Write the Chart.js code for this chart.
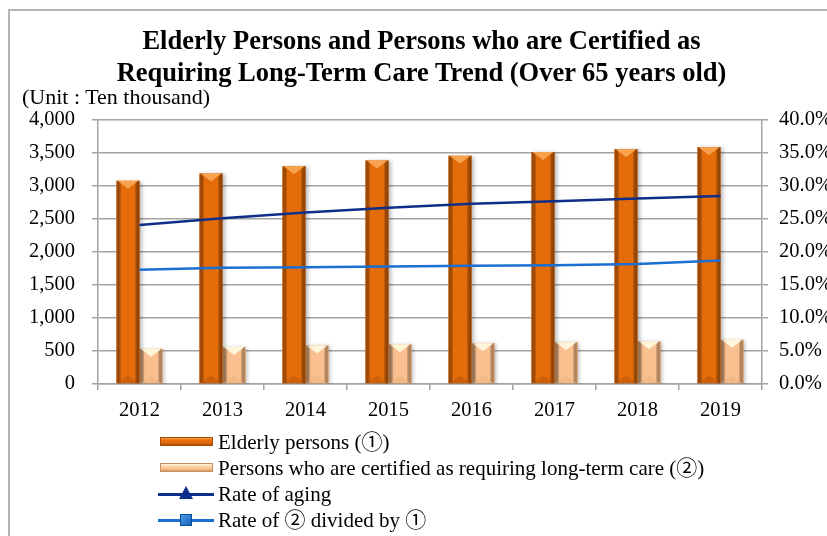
<!DOCTYPE html>
<html><head><meta charset="utf-8">
<script src="https://cdn.jsdelivr.net/npm/chart.js@4"></script>
<style>
html,body{margin:0;padding:0;background:#fff;}
#wrap{position:relative;width:827px;height:536px;overflow:hidden;font-family:"Liberation Serif","Noto Sans CJK JP",serif;color:#000;}
#frame{position:absolute;left:8px;top:9px;width:840px;height:560px;border-left:2px solid #b4b4b4;border-top:2px solid #b4b4b4;}
#c{position:absolute;left:0;top:0;}
.title{position:absolute;left:0;width:843px;text-align:center;font-weight:bold;font-size:26.5px;line-height:30px;white-space:nowrap;}
.unit{position:absolute;left:22px;top:85px;font-size:22px;line-height:24px;white-space:nowrap;}
.lg{position:absolute;left:158px;height:24px;width:660px;font-size:21px;line-height:24px;white-space:nowrap;}
.lg .sw{position:absolute;left:0;top:0;width:56px;height:24px;}
.lg .tx{position:absolute;left:60px;top:0;}
.bar{position:absolute;left:2px;top:7px;width:53px;height:9px;box-sizing:border-box;}
.b1{background:linear-gradient(#f7a04a 0%,#e46c0a 30%,#e46c0a 65%,#a84d08 100%);border:1px solid #a84d08;}
.b2{background:linear-gradient(#fff6dc 0%,#fcd3a8 35%,#fac090 70%,#d39a68 100%);border:1px solid #c89060;}
.ln{position:absolute;left:0;top:10.5px;width:56px;height:3px;}
.tri{position:absolute;left:21px;top:4px;width:0;height:0;border-left:7px solid transparent;border-right:7px solid transparent;border-bottom:13px solid #0d2f8a;}
.sq{position:absolute;left:22px;top:6px;width:12px;height:12px;box-sizing:border-box;background:linear-gradient(135deg,#4a9be8,#1560b8);border:1px solid #0c4a94;}
</style></head>
<body>
<div id="wrap">
  <div id="frame"></div>
  <canvas id="c" width="827" height="536"></canvas>
  <div class="title" style="top:25px;">Elderly Persons and Persons who are Certified as</div>
  <div class="title" style="top:57px;">Requiring Long-Term Care Trend (Over 65 years old)</div>
  <div class="unit">(Unit : Ten thousand)</div>
  <div class="lg" style="top:430px;"><div class="sw"><div class="bar b1"></div></div><div class="tx">Elderly persons (①)</div></div>
  <div class="lg" style="top:456px;"><div class="sw"><div class="bar b2"></div></div><div class="tx">Persons who are certified as requiring long-term care (②)</div></div>
  <div class="lg" style="top:482px;"><div class="sw"><div class="ln" style="background:#0d2f8a"></div><div class="tri"></div></div><div class="tx">Rate of aging</div></div>
  <div class="lg" style="top:508px;"><div class="sw"><div class="ln" style="background:#1a6fd0"></div><div class="sq"></div></div><div class="tx">Rate of ② divided by ①</div></div>
</div>
<script>
const years = ['2012','2013','2014','2015','2016','2017','2018','2019'];
const elderly = [3079, 3190, 3300, 3387, 3459, 3515, 3558, 3589];
const certified = [533, 561, 584, 603, 619, 633, 648, 671];
const agingRate = [24.1, 25.1, 26.0, 26.7, 27.3, 27.7, 28.1, 28.5];
const certRate = [17.3, 17.6, 17.7, 17.8, 17.9, 18.0, 18.2, 18.7];

const FONT = '"Liberation Serif", "Noto Sans CJK JP", serif';
const GRID = '#a3a3a3';
const TICK_SIZE = 20.5;

const bevels = {
  0: {edgeL:'#b0520a', edgeR:'#9c4706', top:'#f9a24e', bottom:'#c05808'},
  1: {edgeL:'#e0a874', edgeR:'#cf9460', top:'#fff5da', bottom:'#efb47e'}
};

const bevelPlugin = {
  id: 'bevel',
  beforeDatasetDraw(chart, args) {
    if (args.meta.type !== 'bar') return;
    const ctx = chart.ctx;
    ctx.save();
    ctx.shadowColor = 'rgba(0,0,0,0.28)';
    ctx.shadowBlur = 4;
    ctx.shadowOffsetX = 2;
    ctx.shadowOffsetY = 1;
  },
  afterDatasetDraw(chart, args) {
    if (args.meta.type !== 'bar') return;
    const ctx = chart.ctx;
    ctx.restore();
    const b = bevels[args.index];
    args.meta.data.forEach(el => {
      const p = el.getProps(['x','y','base','width'], true);
      const l = p.x - p.width/2, r = p.x + p.width/2, t = p.y, bt = p.base;
      const e = 3;
      ctx.save();
      let g = ctx.createLinearGradient(l, 0, l + e + 2, 0);
      g.addColorStop(0, b.edgeL); g.addColorStop(1, 'rgba(0,0,0,0)');
      ctx.fillStyle = g; ctx.fillRect(l, t, e + 2, bt - t);
      g = ctx.createLinearGradient(r - e - 2, 0, r, 0);
      g.addColorStop(0, 'rgba(0,0,0,0)'); g.addColorStop(1, b.edgeR);
      ctx.fillStyle = g; ctx.fillRect(r - e - 2, t, e + 2, bt - t);
      ctx.fillStyle = b.top;
      ctx.beginPath(); ctx.moveTo(l + 1, t); ctx.lineTo(r - 1, t); ctx.lineTo(p.x, t + 8); ctx.closePath(); ctx.fill();
      ctx.fillStyle = b.bottom; ctx.globalAlpha = 0.6;
      ctx.beginPath(); ctx.moveTo(l + 1, bt); ctx.lineTo(r - 1, bt); ctx.lineTo(p.x, bt - 8); ctx.closePath(); ctx.fill();
      ctx.restore();
    });
  }
};

new Chart(document.getElementById('c'), {
  type: 'bar',
  data: {
    labels: years,
    datasets: [
      {type:'bar', label:'Elderly persons (①)', data: elderly, backgroundColor:'#e46c0a', yAxisID:'y', order:2, categoryPercentage:0.554, barPercentage:1.0},
      {type:'bar', label:'Persons who are certified as requiring long-term care (②)', data: certified, backgroundColor:'#fac090', yAxisID:'y', order:2, categoryPercentage:0.554, barPercentage:1.0},
      {type:'line', label:'Rate of aging', data: agingRate, borderColor:'#0d2f8a', borderWidth:2.5, pointRadius:0, tension:0, yAxisID:'y2', order:0},
      {type:'line', label:'Rate of ② divided by ①', data: certRate, borderColor:'#1a6fd0', borderWidth:2.5, pointRadius:0, tension:0, yAxisID:'y2', order:0}
    ]
  },
  options: {
    responsive:false, animation:false, devicePixelRatio:1,
    layout:{padding:{top:120, bottom:112, left:0, right:0}},
    plugins:{legend:{display:false}, title:{display:false}, tooltip:{enabled:false}},
    scales:{
      x:{
        grid:{offset:true, drawOnChartArea:false, drawTicks:true, tickLength:6, color:GRID, lineWidth:1.5},
        border:{color:GRID, width:1.5},
        ticks:{font:{family:FONT, size:TICK_SIZE}, color:'#000', padding:8, maxRotation:0},
        afterFit(s){ s.height = 40; }
      },
      y:{
        position:'left', min:0, max:4000,
        ticks:{stepSize:500, font:{family:FONT, size:TICK_SIZE}, color:'#000', padding:17,
          callback:v => v.toLocaleString('en-US')},
        grid:{color:GRID, lineWidth:1.5, tickLength:6},
        border:{color:GRID, width:1.5},
        afterFit(s){ s.width = 98; }
      },
      y2:{
        position:'right', min:0, max:40,
        ticks:{stepSize:5, font:{family:FONT, size:TICK_SIZE}, color:'#000', padding:11,
          callback:v => v.toFixed(1) + '%'},
        grid:{drawOnChartArea:false, color:GRID, lineWidth:1.5, tickLength:6},
        border:{color:GRID, width:1.5},
        afterFit(s){ s.width = 65; }
      }
    }
  },
  plugins:[bevelPlugin]
});
</script>
</body></html>
